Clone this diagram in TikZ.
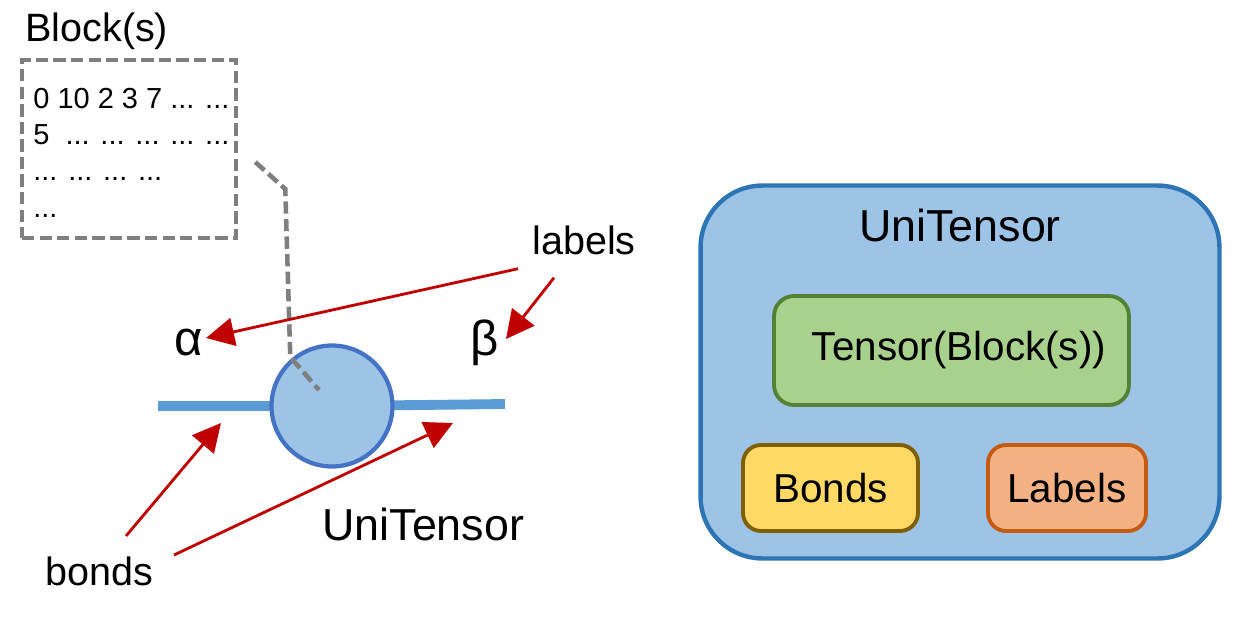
\documentclass[tikz,border=0pt]{standalone}
\usepackage{fontspec}
\setmainfont{Liberation Sans}
\usetikzlibrary{positioning,arrows.meta,backgrounds}
\definecolor{boxblue}{RGB}{157,195,230}
\definecolor{edgeblue}{RGB}{46,117,182}
\definecolor{ringblue}{RGB}{68,114,196}
\definecolor{legblue}{RGB}{91,155,213}
\definecolor{coregreen}{RGB}{169,209,142}
\definecolor{edgegreen}{RGB}{84,130,53}
\definecolor{bondyellow}{RGB}{255,217,102}
\definecolor{edgeyellow}{RGB}{127,96,0}
\definecolor{labelorange}{RGB}{244,177,131}
\definecolor{edgeorange}{RGB}{197,90,17}
\definecolor{pointred}{RGB}{192,0,0}
\definecolor{dashgray}{RGB}{127,127,127}

\begin{document}
\begin{tikzpicture}[
    x=0.02cm, y=-0.02cm,
    txt/.style={
        inner sep=0,
        font=\fontsize{22.5}{27}\selectfont
    },
    bigtxt/.style={
        inner sep=0,
        font=\fontsize{25.5}{30}\selectfont
    },
    greek/.style={
        inner sep=0,
        font=\fontsize{28}{32}\selectfont
    },
    part/.style={
        rounded corners=0.36cm,
        line width=2.2pt,
        minimum height=1.72cm,
        font=\fontsize{23}{27}\selectfont
    },
    dashline/.style={
        dashgray,
        line width=2.6pt,
        dash pattern=on 7pt off 3pt
    },
    leg/.style={
        legblue,
        line width=5.6pt
    },
    ptr/.style={
        -{Triangle[length=16pt,width=16pt]},
        pointred,
        line width=1.6pt
    }
]
\useasboundingbox (0,0) rectangle (1257,616);

% block data
\node[txt, anchor=base west] (blktitle) at (25,41) {Block(s)};
\node[dashline, draw, minimum width=4.28cm, minimum height=3.56cm] (blk) at (129,149) {};
\node[anchor=north west, inner sep=0, align=left,
      font=\fontsize{16.5}{20.6}\selectfont] (cells) at (33,88)
     {0 10 2 3 7 ... ...\\5\ \ ... ... ... ... ...\\... ... ... ...\\...};

% tensor symbol
\node[circle, draw=ringblue, fill=boxblue, line width=2.4pt,
      minimum size=2.42cm, inner sep=0] (ut) at (332,406) {};
\coordinate (bl) at (158,406);
\coordinate (br) at (505,404);
\begin{scope}[on background layer]
\draw[leg] (bl) -- (ut.center);
\draw[leg] (ut.center) -- (br);
\end{scope}

\node[greek, anchor=base west] (alpha) at (174,355) {α};
\node[greek, anchor=base west] (beta) at (470,355) {β};
\node[txt, anchor=base west] (lbl) at (532,254) {labels};
\node[txt, anchor=base west] (bnd) at (45,585) {bonds};
\node[bigtxt, anchor=base west] (utname) at (322,540) {UniTensor};

\draw[dashline] ([shift={(17,13)}]blk.east) -- ++(30,27) -- ++(5,168)
    -- ([shift={(-13,-16)}]ut.center);

\draw[ptr] ([shift={(-14,14)}]lbl.south west) -- ([shift={(32,-17)}]alpha.base west);
\draw[ptr] ([shift={(22,23)}]lbl.south west) -- ([shift={(36,-16)}]beta.base west);
\draw[ptr] ([shift={(81,-49)}]bnd.base west) -- ([shift={(63,17)}]bl);
\draw[ptr] ([shift={(129,-30)}]bnd.base west) -- ([shift={(-52,19)}]br);

% class layout
\node[draw=edgeblue, fill=boxblue, line width=2.5pt, rounded corners=1.24cm,
      minimum width=10.38cm, minimum height=7.46cm] (ubox) at (960,372) {};
\node[bigtxt, anchor=base] (ubtitle) at ([shift={(0,58.5)}]ubox.north) {UniTensor};
\node[part, draw=edgegreen, fill=coregreen, rounded corners=0.4cm,
      minimum width=7.1cm, minimum height=2.18cm] (core) at (951.5,350.5)
     {\hspace{0.3cm}Tensor(Block(s))};
\node[part, draw=edgeyellow, fill=bondyellow, minimum width=3.5cm] (bonds) at (830.5,488)
     {Bonds\hspace{0.2cm}};
\node[part, draw=edgeorange, fill=labelorange, minimum width=3.16cm] (labels) at (1067,488)
     {Labels};

\end{tikzpicture}
\end{document}
